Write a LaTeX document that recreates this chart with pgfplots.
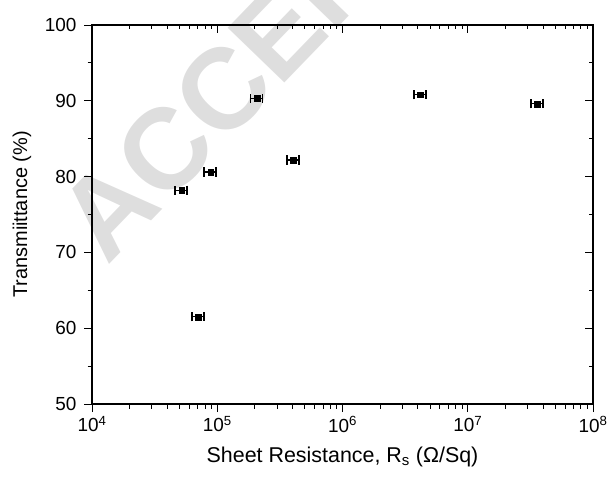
\documentclass[border=0pt]{standalone}
\usepackage{fontspec}
\setmainfont{Liberation Sans}
\usepackage{pgfplots}
\pgfplotsset{compat=1.18}
\begin{document}
\begin{tikzpicture}
\node[overlay, rotate=46, anchor=base west, text=black!13, font=\fontsize{115}{115}\selectfont\bfseries, inner sep=0pt] at (15bp,137bp) {ACCEPTED MANUSCRIPT};
\begin{axis}[
  scale only axis, width=501bp, height=379bp,
  xmode=log, xmin=1e4, xmax=1e8, ymin=50, ymax=100,
  xtick={1e4,1e5,1e6,1e7,1e8},
  minor xtick={2e4,3e4,4e4,5e4,6e4,7e4,8e4,9e4,2e5,3e5,4e5,5e5,6e5,7e5,8e5,9e5,2e6,3e6,4e6,5e6,6e6,7e6,8e6,9e6,2e7,3e7,4e7,5e7,6e7,7e7,8e7,9e7},
  ytick={50,60,70,80,90,100}, minor ytick={55,65,75,85,95},
  major tick length=8bp, minor tick length=4.5bp,
  every tick/.style={black, line width=1pt},
  axis line style={line width=1.1pt},
  tick label style={font=\fontsize{19}{22}\selectfont},
  /pgf/number format/assume math mode=true,
  tick pos=left, tick align=outside,
  xticklabels={10\textsuperscript{4},10\textsuperscript{5},10\textsuperscript{6},10\textsuperscript{7},10\textsuperscript{8}},
  every axis y label/.style={at={(axis description cs:-0.1397,0.5)}, rotate=90, anchor=center, font=\fontsize{20}{24}\selectfont},
  every axis x label/.style={at={(axis description cs:0.5,-0.1398)}, anchor=center, font=\fontsize{21.5}{25}\selectfont},
  xlabel={Sheet Resistance, R\textsubscript{s} (Ω/Sq)},
  ylabel={Transmiittance (\%)},
  xticklabel style={yshift=-1bp},
  yticklabel style={xshift=-4bp},
]
\addplot[only marks, black, mark=square*, mark size=2.9bp,
  error bars/.cd, x dir=both, x explicit, error mark=|,
  error bar style={line width=1.3pt, black},
  error mark options={mark size=4.6bp, line width=1.9pt, black}]
coordinates {
  (5.2e4,78.2) +- (5720,0)
  (8.87e4,80.6) +- (9757,0)
  (2.07e5,90.3) +- (22770,0)
  (4.05e5,82.2) +- (44550,0)
  (7.06e4,61.5) +- (7766,0)
  (4.16e6,90.8) +- (457600,0)
  (3.6e7,89.6) +- (3960000,0)
};
\end{axis}
\begin{axis}[
  scale only axis, width=501bp, height=379bp,
  xmode=log, xmin=1e4, xmax=1e8, ymin=50, ymax=100,
  xtick={1e4,1e5,1e6,1e7,1e8},
  minor xtick={2e4,3e4,4e4,5e4,6e4,7e4,8e4,9e4,2e5,3e5,4e5,5e5,6e5,7e5,8e5,9e5,2e6,3e6,4e6,5e6,6e6,7e6,8e6,9e6,2e7,3e7,4e7,5e7,6e7,7e7,8e7,9e7},
  ytick={50,60,70,80,90,100}, minor ytick={55,65,75,85,95},
  major tick length=8bp, minor tick length=4.5bp,
  every tick/.style={black, line width=1pt},
  axis line style={line width=1.1pt},
  tick pos=right, tick align=inside,
  xticklabels={}, yticklabels={},
]
\end{axis}
\pgfresetboundingbox
\useasboundingbox (-92bp,-74bp) rectangle (520bp,404bp);
\end{tikzpicture}
\end{document}
